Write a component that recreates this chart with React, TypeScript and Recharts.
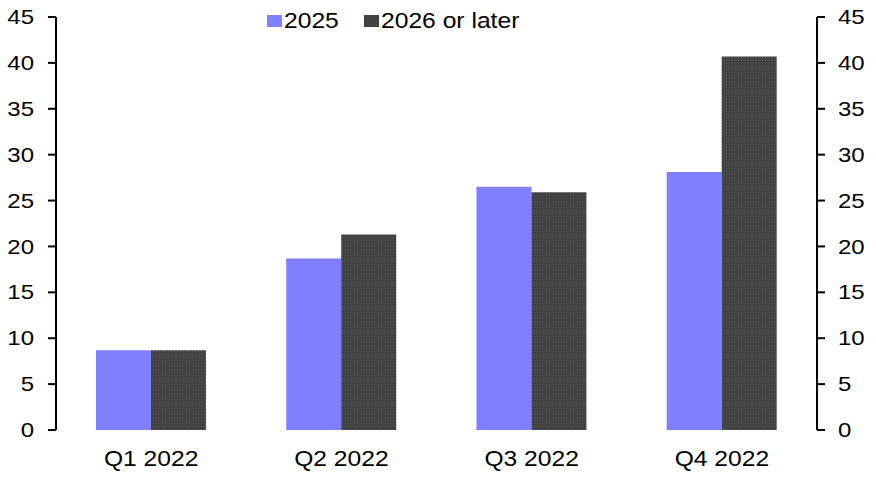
import React from 'react';
import { BarChart, Bar, XAxis, YAxis, Legend } from 'recharts';

const quarters = ['Q1 2022', 'Q2 2022', 'Q3 2022', 'Q4 2022'];
const share2025 = [8.7, 18.7, 26.5, 28.1];
const share2026 = [8.7, 21.3, 25.9, 40.7];
const yTicks = [0, 5, 10, 15, 20, 25, 30, 35, 40, 45];
const boundaryTicks = [0, 1, 2, 3, 4];

const FONT = '"Liberation Sans", Arial, sans-serif';
const BLUE = '#8080ff';
const DARK = '#424242';

const data = quarters.map((q, i) => ({
  quarter: q,
  pos: i + 0.5,
  y2025: share2025[i],
  y2026: share2026[i],
}));

const legendItems = [
  { label: '2025', fill: BLUE },
  { label: '2026 or later', fill: DARK },
];

// the reference text is a little wider than plain Arial, so stretch it sideways
function StretchTick(props: any) {
  const { x, y, payload, textAnchor, fontSize, sx, dy } = props;
  return (
    <text
      transform={`translate(${x},${y}) scale(${sx},1)`}
      textAnchor={textAnchor}
      dy={dy}
      fontFamily={FONT}
      fontSize={fontSize}
      fill="#000"
    >
      {payload.value}
    </text>
  );
}

function LegendContent() {
  return (
    <div style={{ display: 'flex', alignItems: 'center', fontFamily: FONT, fontSize: 22, color: '#000' }}>
      {legendItems.map((it) => (
        <div key={it.label} style={{ display: 'flex', alignItems: 'center', marginRight: 31 }}>
          <svg width={15} height={12} style={{ marginRight: 2 }}>
            <rect width={15} height={12} fill={it.fill} />
          </svg>
          <span style={{ display: 'inline-block', transform: 'scaleX(1.12)', transformOrigin: 'left center' }}>
            {it.label}
          </span>
        </div>
      ))}
    </div>
  );
}

export default function App() {
  return (
    <div style={{ position: 'absolute', left: 0, top: 0, background: '#fff' }}>
      <BarChart
        width={876}
        height={480}
        data={data}
        barGap={0}
        barCategoryGap="21%"
        margin={{ top: 17, right: 0, bottom: 0, left: 0 }}
      >
        <defs>
          <pattern id="dots" width={3} height={3} patternUnits="userSpaceOnUse">
            <rect width={3} height={3} fill={DARK} />
            <rect width={1} height={1} fill="#5a5a5a" />
          </pattern>
        </defs>
        <XAxis
          xAxisId="edges"
          type="number"
          dataKey="pos"
          domain={[0, 4]}
          ticks={boundaryTicks}
          tick={false}
          tickSize={7}
          height={0}
          axisLine={{ stroke: '#000', strokeWidth: 2 }}
          tickLine={{ stroke: '#000', strokeWidth: 2 }}
        />
        <XAxis
          xAxisId="cat"
          dataKey="quarter"
          axisLine={false}
          tickLine={false}
          tickMargin={14}
          height={50}
          tick={<StretchTick fontSize={22} sx={1.12} dy="0.71em" />}
        />
        <YAxis
          yAxisId="left"
          type="number"
          width={56}
          domain={[0, 45]}
          ticks={yTicks}
          interval={0}
          allowDataOverflow
          tickSize={8}
          tickMargin={14}
          axisLine={{ stroke: '#000', strokeWidth: 2 }}
          tickLine={{ stroke: '#000', strokeWidth: 2 }}
          tick={<StretchTick fontSize={20} sx={1.2} dy="0.355em" />}
        />
        <YAxis
          yAxisId="right"
          type="number"
          orientation="right"
          width={59}
          domain={[0, 45]}
          ticks={yTicks}
          interval={0}
          allowDataOverflow
          tickSize={8}
          tickMargin={13}
          axisLine={{ stroke: '#000', strokeWidth: 2 }}
          tickLine={{ stroke: '#000', strokeWidth: 2 }}
          tick={<StretchTick fontSize={20} sx={1.2} dy="0.355em" />}
        />
        <Legend
          layout="horizontal"
          verticalAlign="middle"
          align="center"
          content={<LegendContent />}
          wrapperStyle={{ top: 8, left: 267, width: 340 }}
        />
        <Bar xAxisId="cat" yAxisId="left" dataKey="y2025" name="2025" fill={BLUE} isAnimationActive={false} />
        <Bar xAxisId="cat" yAxisId="left" dataKey="y2026" name="2026 or later" fill="url(#dots)" isAnimationActive={false} />
      </BarChart>
    </div>
  );
}
